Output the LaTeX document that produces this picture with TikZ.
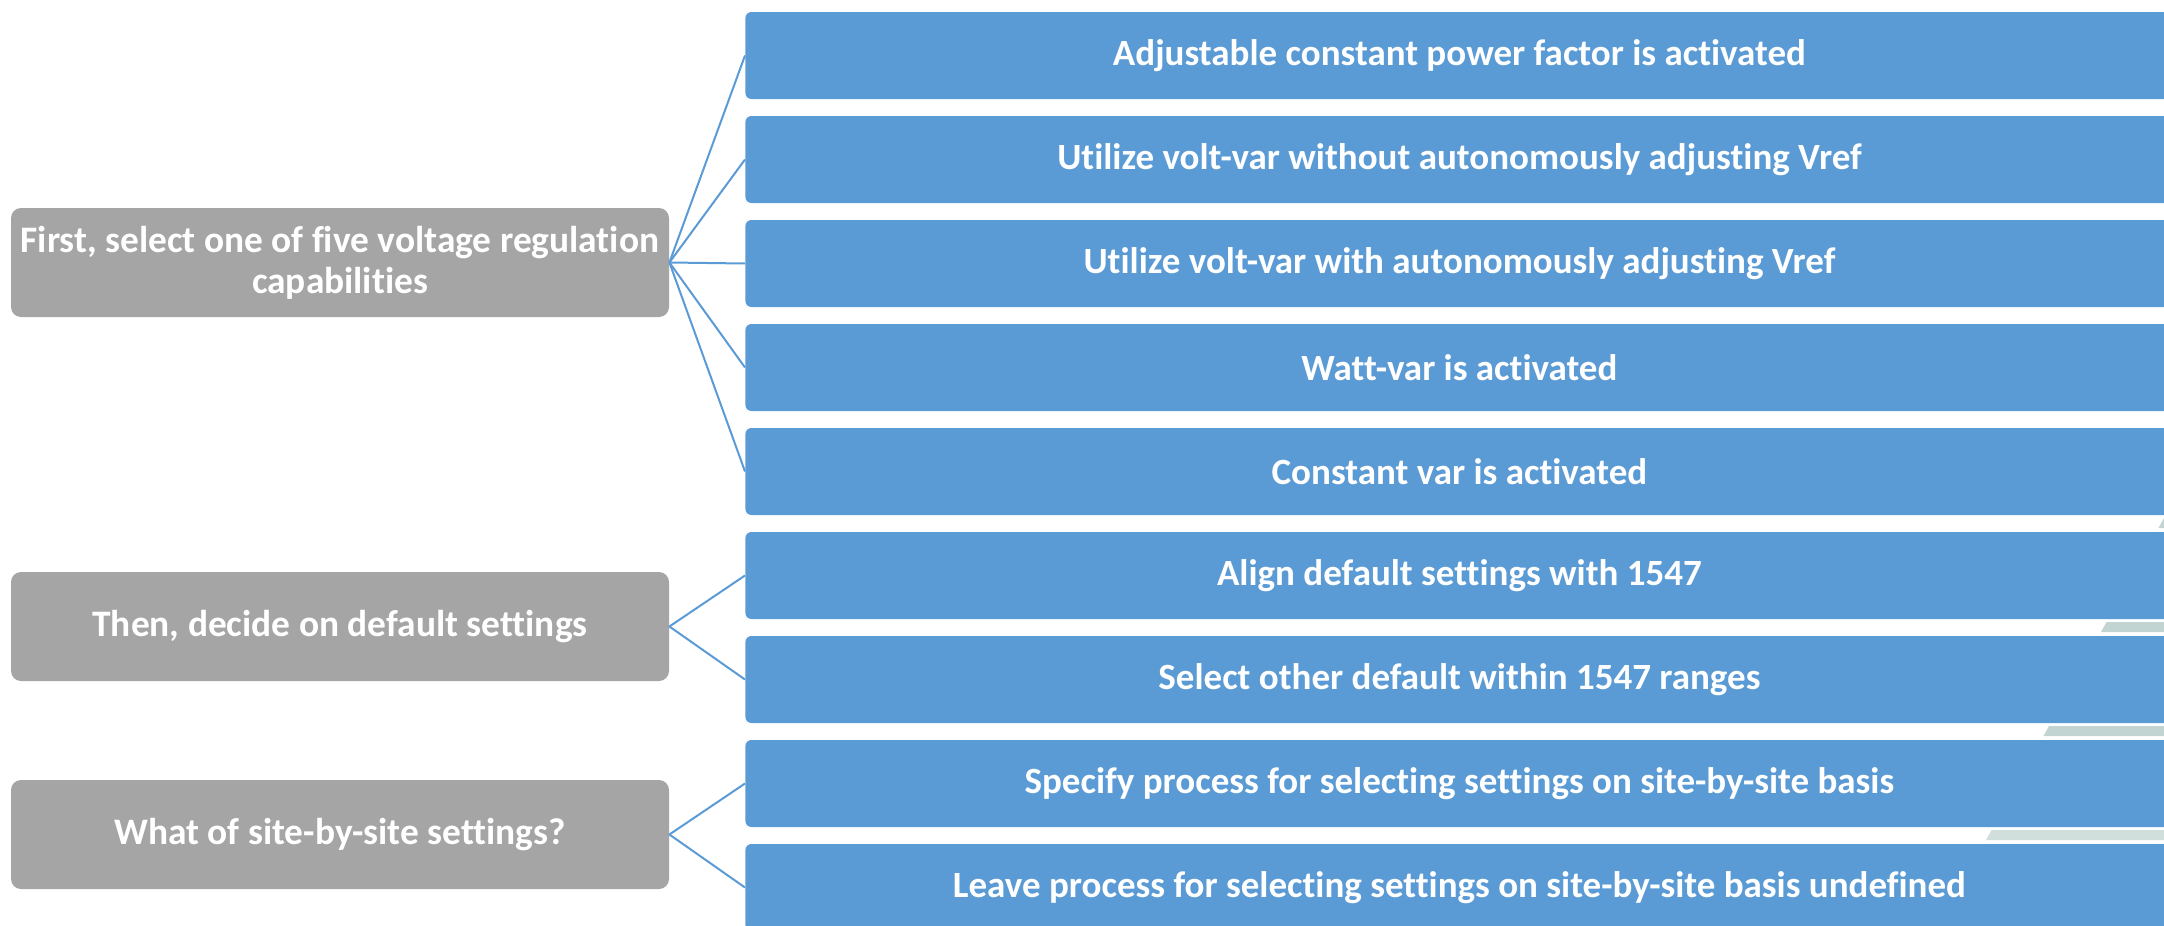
\documentclass[tikz,border=0pt]{standalone}
\usepackage{fontspec}
\setmainfont{Carlito}[Ligatures=NoCommon]
\definecolor{optblue}{HTML}{5B9BD5}
\definecolor{stepgray}{HTML}{A5A5A5}
\definecolor{stripe}{HTML}{C2D4D1}
\definecolor{stripelight}{HTML}{D0DFDC}
\tikzset{
  option/.style={fill=optblue, draw=none, rounded corners=3pt, inner sep=0pt,
    minimum width=714pt, minimum height=43.5pt, anchor=west, text=white,
    font=\fontsize{18.5}{22}\selectfont\bfseries},
  question/.style={fill=stepgray, draw=none, rounded corners=5pt, inner sep=0pt,
    minimum width=329pt, minimum height=54.5pt, text=white, align=center,
    font=\fontsize{18.7}{20.5}\selectfont\bfseries},
  link/.style={draw=optblue, line width=1pt},
}
\begin{document}
\begin{tikzpicture}[x=0.5pt, y=-0.5pt]
  \useasboundingbox (0,0) rectangle (2164,926);
  \clip (0,0) rectangle (2164,926);

  % decorative strips showing between the lower options
  \foreach \k/\col in {0/stripe,1/stripe,2/stripe,3/stripelight} {
    \fill[\col] ({2158.5-57.5*\k},{528+104*\k}) -- ({2164-57.5*\k},{518+104*\k})
      -- (2200,{518+104*\k}) -- (2200,{528+104*\k}) -- cycle;
  }

  % answer options
  \node[option] (o1) at (745,55.5)  {Adjustable constant power factor is activated};
  \node[option] (o2) at (745,159.5) {Utilize volt-var without autonomously adjusting Vref};
  \node[option] (o3) at (745,263.5) {Utilize volt-var with autonomously adjusting Vref};
  \node[option] (o4) at (745,367.5) {Watt-var is activated};
  \node[option] (o5) at (745,471.5) {Constant var is activated};
  \node[option] (o6) at (745,575.5) {Align default settings with 1547};
  \node[option] (o7) at (745,679.5) {Select other default within 1547 ranges};
  \node[option] (o8) at (745,783.5) {Specify process for selecting settings on site-by-site basis};
  \node[option] (o9) at (745,887.5) {Leave process for selecting settings on site-by-site basis undefined};

  % decision steps
  \node[question] (q1) at (340,262.5) {First, select one of five voltage regulation\\capabilities};
  \node[question] (q2) at (340,626.5) {Then, decide on default settings};
  \node[question] (q3) at (340,834.5) {What of site-by-site settings?};

  % connectors
  \foreach \o in {o1,o2,o3,o4,o5} \draw[link] (q1.east) -- (\o.west);
  \foreach \o in {o6,o7} \draw[link] (q2.east) -- (\o.west);
  \foreach \o in {o8,o9} \draw[link] (q3.east) -- (\o.west);
\end{tikzpicture}
\end{document}
